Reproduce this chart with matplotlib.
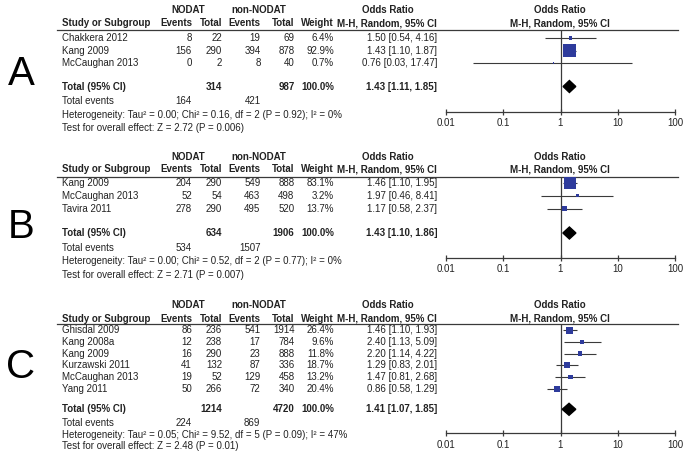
import matplotlib
matplotlib.use("Agg")
import matplotlib.pyplot as plt
from matplotlib.patches import Polygon

plt.rcParams['font.family'] = ['Liberation Sans', 'DejaVu Sans']

# ---- data ----
A_studies = ["Chakkera 2012", "Kang 2009", "McCaughan 2013"]
A_ev1 = [8, 156, 0]
A_tot1 = [22, 290, 2]
A_ev2 = [19, 394, 8]
A_tot2 = [69, 878, 40]
A_weight = [6.4, 92.9, 0.7]
A_or = [1.50, 1.43, 0.76]
A_lo = [0.54, 1.10, 0.03]
A_hi = [4.16, 1.87, 17.47]
A_sum = [314, 987, 164, 421]          # total NODAT, total non, events NODAT, events non
A_pooled = [1.43, 1.11, 1.85]
A_het = "Heterogeneity: Tau² = 0.00; Chi² = 0.16, df = 2 (P = 0.92); I² = 0%"
A_test = "Test for overall effect: Z = 2.72 (P = 0.006)"

B_studies = ["Kang 2009", "McCaughan 2013", "Tavira 2011"]
B_ev1 = [204, 52, 278]
B_tot1 = [290, 54, 290]
B_ev2 = [549, 463, 495]
B_tot2 = [888, 498, 520]
B_weight = [83.1, 3.2, 13.7]
B_or = [1.46, 1.97, 1.17]
B_lo = [1.10, 0.46, 0.58]
B_hi = [1.95, 8.41, 2.37]
B_sum = [634, 1906, 534, 1507]
B_pooled = [1.43, 1.10, 1.86]
B_het = "Heterogeneity: Tau² = 0.00; Chi² = 0.52, df = 2 (P = 0.77); I² = 0%"
B_test = "Test for overall effect: Z = 2.71 (P = 0.007)"

C_studies = ["Ghisdal 2009", "Kang 2008a", "Kang 2009", "Kurzawski 2011",
             "McCaughan 2013", "Yang 2011"]
C_ev1 = [86, 12, 16, 41, 19, 50]
C_tot1 = [236, 238, 290, 132, 52, 266]
C_ev2 = [541, 17, 23, 87, 129, 72]
C_tot2 = [1914, 784, 888, 336, 458, 340]
C_weight = [26.4, 9.6, 11.8, 18.7, 13.2, 20.4]
C_or = [1.46, 2.40, 2.20, 1.29, 1.47, 0.86]
C_lo = [1.10, 1.13, 1.14, 0.83, 0.81, 0.58]
C_hi = [1.93, 5.09, 4.22, 2.01, 2.68, 1.29]
C_sum = [1214, 4720, 224, 869]
C_pooled = [1.41, 1.07, 1.85]
C_het = "Heterogeneity: Tau² = 0.05; Chi² = 9.52, df = 5 (P = 0.09); I² = 47%"
C_test = "Test for overall effect: Z = 2.48 (P = 0.01)"

ticks = [0.01, 0.1, 1, 10, 100]
tick_labels = ["0.01", "0.1", "1", "10", "100"]

# ---- layout (pixels) ----
W, H = 686, 458
fig = plt.figure(figsize=(W / 100, H / 100), dpi=100)
ax = fig.add_axes([0, 0, 1, 1])
ax.set_xlim(0, W)
ax.set_ylim(H, 0)
ax.axis('off')

txt = '#222222'
lc = '#3a3a3a'
blue = '#2E3B9C'
fs = 7
x_study, x_ev1, x_tot1, x_ev2, x_tot2, x_w, x_ci = 62, 192, 222, 260.5, 294.5, 334, 437
x_f0, x_f1 = 446, 675


def t(x, y, s, ha='left', bold=False, size=fs):
    ax.text(x, y, s, ha=ha, va='center', fontsize=size, color=txt,
            fontweight='bold' if bold else 'normal')


def panel(letter, studies, ev1, tot1, ev2, tot2, weight, orr, lo, hi,
          summ, pooled, het, test, lay):
    h1, h2, line, row0, step, ytot, yev, yhet, ytest, yaxis, yletter = lay

    ax.text(21, yletter, letter, ha='center', va='center', fontsize=29, color='black')

    t(188, h1, "NODAT", 'center', True)
    t(259, h1, "non-NODAT", 'center', True)
    t(388, h1, "Odds Ratio", 'center', True)
    t(560, h1, "Odds Ratio", 'center', True)
    t(x_study, h2, "Study or Subgroup", bold=True)
    t(x_ev1, h2, "Events", 'right', True)
    t(x_tot1, h2, "Total", 'right', True)
    t(x_ev2, h2, "Events", 'right', True)
    t(x_tot2, h2, "Total", 'right', True)
    t(x_w, h2, "Weight", 'right', True)
    t(x_ci, h2, "M-H, Random, 95% CI", 'right', True)
    t(560, h2, "M-H, Random, 95% CI", 'center', True)
    ax.plot([57, 678], [line, line], color=lc, lw=0.9)

    ys = [row0 + i * step for i in range(len(studies))]
    for i, y in enumerate(ys):
        t(x_study, y, studies[i])
        t(x_ev1, y, str(ev1[i]), 'right')
        t(x_tot1, y, str(tot1[i]), 'right')
        t(x_ev2, y, str(ev2[i]), 'right')
        t(x_tot2, y, str(tot2[i]), 'right')
        t(x_w, y, f"{weight[i]:.1f}%", 'right')
        t(x_ci, y, f"{orr[i]:.2f} [{lo[i]:.2f}, {hi[i]:.2f}]", 'right')

    t(x_study, ytot, "Total (95% CI)", bold=True)
    t(x_tot1, ytot, str(summ[0]), 'right', True)
    t(x_tot2, ytot, str(summ[1]), 'right', True)
    t(x_w, ytot, "100.0%", 'right', True)
    t(x_ci, ytot, f"{pooled[0]:.2f} [{pooled[1]:.2f}, {pooled[2]:.2f}]", 'right', True)
    t(x_study, yev, "Total events")
    t(x_ev1, yev, str(summ[2]), 'right')
    t(x_ev2, yev, str(summ[3]), 'right')
    t(x_study, yhet, het)
    t(x_study, ytest, test)

    # forest plot
    fa = fig.add_axes([x_f0 / W, 1 - yaxis / H, (x_f1 - x_f0) / W, (yaxis - line) / H])
    fa.set_xscale('log')
    fa.set_xlim(0.01, 100)
    fa.set_ylim(yaxis, line)
    fa.patch.set_alpha(0)
    for s in ('left', 'right', 'top'):
        fa.spines[s].set_visible(False)
    fa.spines['bottom'].set_color(lc)
    fa.spines['bottom'].set_linewidth(0.9)
    fa.set_yticks([])
    fa.set_xticks(ticks)
    fa.set_xticklabels(tick_labels)
    fa.minorticks_off()
    fa.tick_params(axis='x', direction='inout', length=5, width=0.9, color=lc,
                   labelsize=fs, labelcolor=txt, pad=2)
    fa.axvline(1, color=lc, lw=0.9)
    fa.hlines(ys, lo, hi, color=lc, lw=0.8)
    fa.scatter(orr, ys, s=[w * 0.95 for w in weight], marker='s', color=blue,
               linewidths=0, zorder=3)
    est, plo, phi = pooled
    fa.add_patch(Polygon([(plo, ytot), (est, ytot - 6), (phi, ytot), (est, ytot + 6)],
                         closed=True, color='black', zorder=3))


panel("A", A_studies, A_ev1, A_tot1, A_ev2, A_tot2, A_weight, A_or, A_lo, A_hi,
      A_sum, A_pooled, A_het, A_test,
      (10, 23, 29.5, 38, 12.5, 86.5, 101, 115, 128, 111.5, 74))
panel("B", B_studies, B_ev1, B_tot1, B_ev2, B_tot2, B_weight, B_or, B_lo, B_hi,
      B_sum, B_pooled, B_het, B_test,
      (156.5, 169.5, 176.5, 182.5, 13.2, 233, 248, 261, 275, 258, 227))
panel("C", C_studies, C_ev1, C_tot1, C_ev2, C_tot2, C_weight, C_or, C_lo, C_hi,
      C_sum, C_pooled, C_het, C_test,
      (305, 318.5, 323.5, 330.2, 11.7, 409.3, 423.3, 435, 445.7, 433.3, 367))

fig.savefig("out.png", dpi=100)
